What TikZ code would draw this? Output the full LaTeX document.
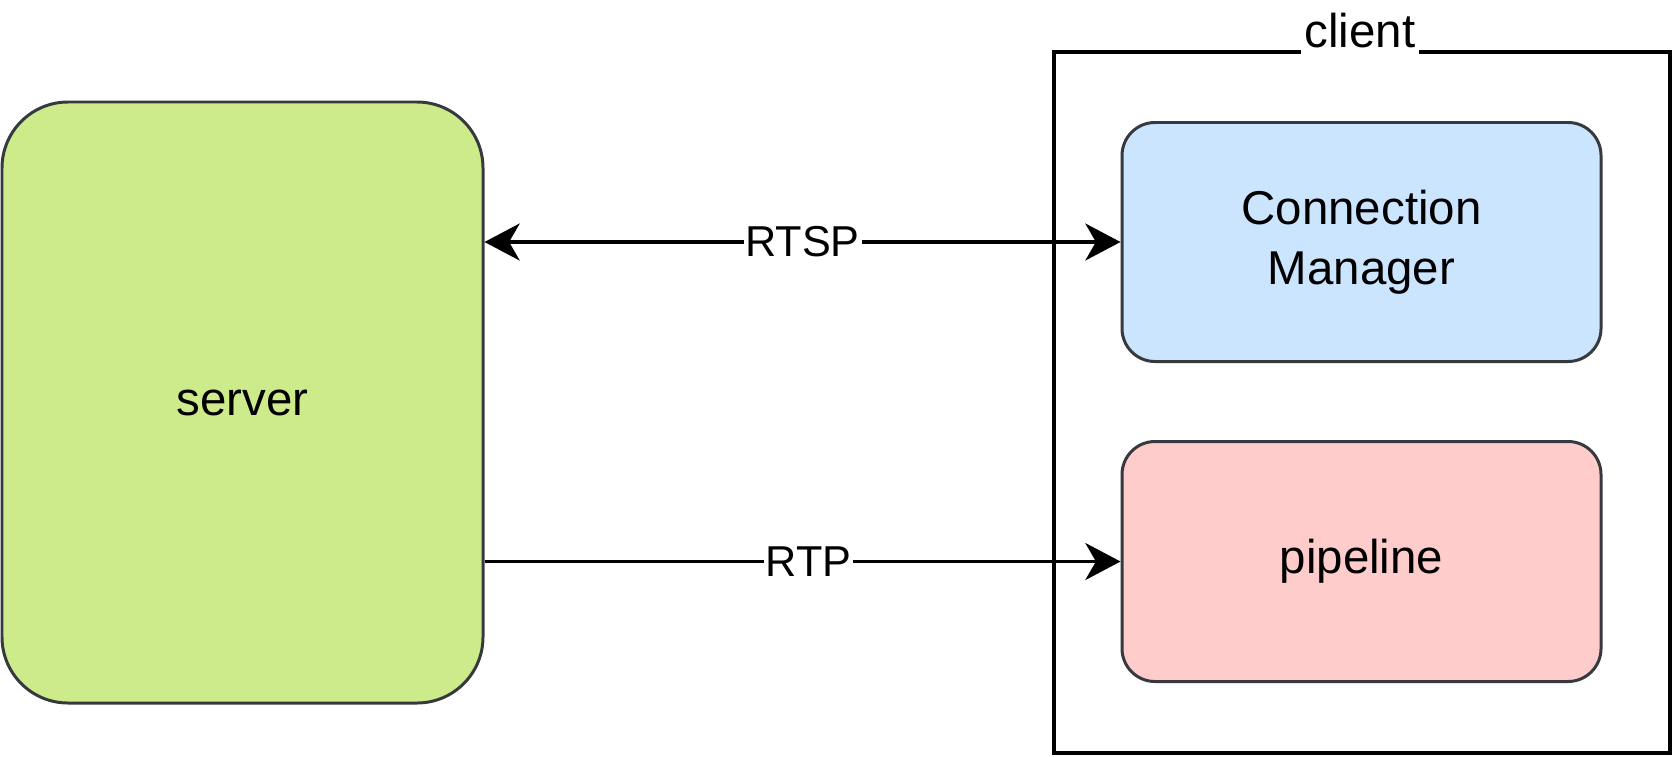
\documentclass[tikz,border=0pt]{standalone}
\usepackage{fontspec}
\setmainfont{Liberation Sans}
\usepackage{tikz}
\usetikzlibrary{arrows.meta}

\definecolor{serverfill}{HTML}{CDEB8B}
\definecolor{cmfill}{HTML}{CCE5FF}
\definecolor{pipefill}{HTML}{FFCCCC}
\definecolor{boxline}{HTML}{36393D}

\begin{document}
\begin{tikzpicture}[scale = 1.0, transform shape]
    \tikzstyle{Block}=[draw=boxline, line width=0.85pt, inner sep=0pt,
                       font=\fontsize{13.5}{17}\selectfont, align=center]
    \tikzstyle{Link}=[line width=1.1pt, -{Stealth[length=10pt,width=10.5pt,inset=3pt]}]
    \tikzstyle{LinkLabel}=[fill=white, inner xsep=0.5pt, inner ysep=1pt,
                           font=\fontsize{12.3}{14}\selectfont]
    \useasboundingbox (0,0) rectangle (16.72,-7.56);
    \node[draw, line width=1.1pt, minimum width=6.16cm, minimum height=7.01cm]
        (client) at (13.62,-4.025) {};
    \node[fill=white, inner xsep=1pt, inner ysep=2.5pt, anchor=base,
          font=\fontsize{13.5}{16}\selectfont] (clientlabel) at (13.6,-0.47) {client};
    \node[Block, fill=serverfill, rounded corners=0.66cm,
          minimum width=4.81cm, minimum height=6.01cm] (server) at (2.425,-4.025) {server};
    \node[Block, fill=cmfill, rounded corners=0.33cm,
          minimum width=4.79cm, minimum height=2.39cm] (cm) at (13.615,-2.42) {Connection\\Manager};
    \node[Block, fill=pipefill, rounded corners=0.33cm,
          minimum width=4.79cm, minimum height=2.4cm] (pipeline) at (13.615,-5.615) {pipeline};
    \draw[Link, {Stealth[length=10pt,width=10.5pt,inset=3pt]}-{Stealth[length=10pt,width=10.5pt,inset=3pt]}]
        (server.east |- cm.west) -- node[LinkLabel] (rtsp) {RTSP} (cm.west);
    \draw[Link] (server.east |- pipeline.west) -- node[LinkLabel, xshift=0.06cm] (rtp) {RTP} (pipeline.west);
\end{tikzpicture}
\end{document}
